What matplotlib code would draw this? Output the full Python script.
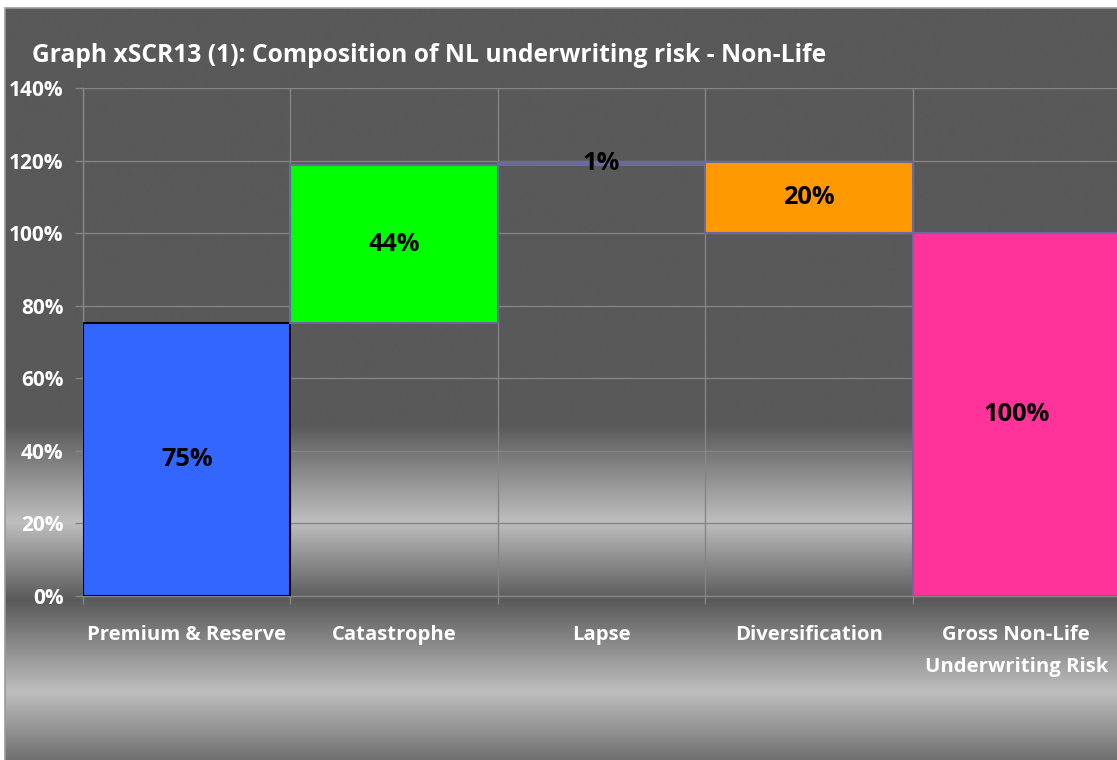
import numpy as np
import matplotlib
matplotlib.use("Agg")
import matplotlib.pyplot as plt
from matplotlib.patches import Rectangle
from matplotlib.ticker import FixedLocator

# ---- data ----
categories = ["Premium & Reserve", "Catastrophe", "Lapse", "Diversification",
              "Gross Non-Life\nUnderwriting Risk"]
changes = [75.2, 43.6, 0.8, -19.6, 100.0]   # % contributions (waterfall)
is_total = [False, False, False, False, True]
value_labels = ["75%", "44%", "1%", "20%", "100%"]
bar_colors = ["#3366ff", "#00ff00", "#6a6a9e", "#ff9900", "#ff3399"]
edge_colors = ["#000000", "#6a6a9e", "#6a6a9e", "#6a6a9e", "#6a6a9e"]
yticks = [0, 20, 40, 60, 80, 100, 120, 140]
ytick_labels = [f"{v}%" for v in yticks]
title = "Graph xSCR13 (1): Composition of NL underwriting risk - Non-Life"

plt.rcParams['font.family'] = ['Open Sans', 'DejaVu Sans']

W, H = 1117, 760
fig = plt.figure(figsize=(W / 100, H / 100), dpi=100, facecolor="white")

# ---- background gradient (chart area) ----
bg = fig.add_axes([5 / W, 0, 1 - 5 / W, 1 - 8 / H], zorder=0)
rows = np.arange(8, H + 1)
stops_y = [8, 425, 522, 600, 692, 760]
stops_v = [89, 89, 190, 90, 190, 112]
g = np.interp(rows, stops_y, stops_v) / 255.0
img = np.repeat(g[:, None], 2, axis=1)
bg.imshow(img, cmap="gray", vmin=0, vmax=1, aspect="auto",
          extent=[0, 1, 0, 1], interpolation="bilinear")
bg.set_axis_off()
fig.patches.append(Rectangle((5 / W, -0.05), 1.05, 1.05 - 8 / H, transform=fig.transFigure,
                             fill=False, edgecolor="#9a9a9a", linewidth=1.2, zorder=5))

# ---- main plot ----
left, right, bottom, top = 83, 1120, 596, 88
ax = fig.add_axes([left / W, 1 - bottom / H, (right - left) / W, (bottom - top) / H], zorder=2)
ax.patch.set_alpha(0)

x = np.arange(len(categories))
bottoms, heights = [], []
running = 0.0
for c, tot in zip(changes, is_total):
    if tot:
        bottoms.append(0.0)
        heights.append(c)
        running = c
    else:
        if c >= 0:
            bottoms.append(running)
            heights.append(c)
        else:
            bottoms.append(running + c)
            heights.append(-c)
        running += c

ax.bar(x, heights, bottom=bottoms, width=1.0, color=bar_colors,
       edgecolor=edge_colors, linewidth=1.5, zorder=3)

for xi, b, h, lab in zip(x, bottoms, heights, value_labels):
    ax.text(xi, b + h / 2, lab, ha="center", va="center", fontsize=18.3,
            fontweight="bold", color="black", zorder=4)

ax.set_xlim(-0.5, len(categories) - 0.5)
ax.set_ylim(0, 140)
ax.set_yticks(yticks)
ax.set_yticklabels(ytick_labels)
ax.set_xticks(x)
ax.set_xticklabels(categories, linespacing=1.78)
ax.xaxis.set_minor_locator(FixedLocator(np.arange(-0.5, len(categories), 1.0)))

ax.grid(axis="y", which="major", color="#858585", linewidth=1, zorder=1)
ax.grid(axis="x", which="minor", color="#858585", linewidth=1, zorder=1)
ax.set_axisbelow(True)

ax.tick_params(axis="y", which="major", colors="#858585", length=6, width=1,
               labelcolor="white", labelsize=15, pad=8)
ax.tick_params(axis="x", which="major", length=0, labelcolor="white",
               labelsize=14.6, pad=21)
ax.tick_params(axis="x", which="minor", colors="#858585", length=6, width=1)
for lab in ax.get_xticklabels() + ax.get_yticklabels():
    lab.set_fontweight("bold")

for s in ["top", "right"]:
    ax.spines[s].set_visible(False)
for s in ["left", "bottom"]:
    ax.spines[s].set_color("#858585")
    ax.spines[s].set_linewidth(1)

fig.text(32 / W, 1 - 56 / H, title, ha="left", va="center", fontsize=17.7,
         fontweight="bold", color="white", zorder=6)

fig.savefig("out.png", dpi=100, facecolor="white")
